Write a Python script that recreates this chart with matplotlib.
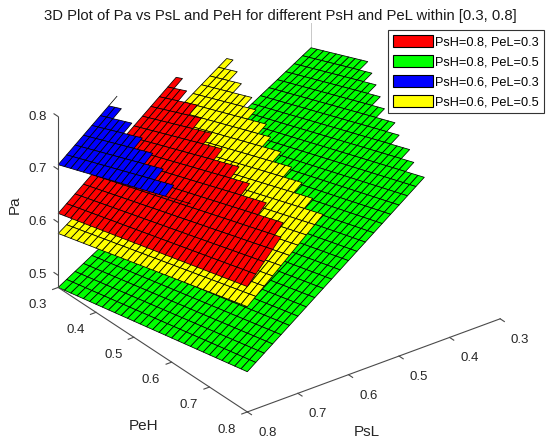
import numpy as np
import matplotlib
matplotlib.use('Agg')
import matplotlib.pyplot as plt
import matplotlib.patches as mpatches
from mpl_toolkits.mplot3d.art3d import Poly3DCollection

plt.rcParams['font.family'] = ['Liberation Sans', 'DejaVu Sans']

# sampling of the two free variables (31 points each, as in the surf grid)
psl = np.linspace(0.3, 0.8, 31)
peh = np.linspace(0.3, 0.8, 31)
pa_range = [0.3, 0.8]          # Pa kept only within this range

labels = ['PsH=0.8, PeL=0.3', 'PsH=0.8, PeL=0.5', 'PsH=0.6, PeL=0.3', 'PsH=0.6, PeL=0.5']
colors = ['#ff0000', '#00ff00', '#0000ff', '#ffff00']

# Pa at the grid corners
# order: (PsL=0.8,PeH=0.3), (PsL=0.8,PeH=0.8), (PsL=0.3,PeH=0.3), (PsL=0.3,PeH=0.8)
pa_red = [0.617, 0.714, 0.992, 1.239]
pa_green = [0.477, 0.553, 0.754, 0.902]
pa_blue = [0.709, 0.839, 1.089, 1.344]
pa_yellow = [0.579, 0.676, 0.899, 1.081]

ticks_xy = [0.3, 0.4, 0.5, 0.6, 0.7, 0.8]
ticks_z = [0.5, 0.6, 0.7, 0.8]

W, H = 550, 443
fig = plt.figure(figsize=(W / 100, H / 100), dpi=100)
ax = fig.add_axes([0, 0, 1, 1], projection='3d', proj_type='ortho', computed_zorder=False)

X, Y = np.meshgrid(psl, peh)
t = (X.max() - X) / (X.max() - X.min())
s = (Y - Y.min()) / (Y.max() - Y.min())

polys, fcs, allz = [], [], []
for corners, col in zip([pa_red, pa_green, pa_blue, pa_yellow], colors):
    c00, c01, c10, c11 = corners
    Z = c00 * (1 - t) * (1 - s) + c01 * (1 - t) * s + c10 * t * (1 - s) + c11 * t * s
    Z[(Z < pa_range[0]) | (Z > pa_range[1])] = np.nan
    ok = np.isfinite(Z)
    allz.append(Z[ok])
    face = ok[:-1, :-1] & ok[1:, :-1] & ok[:-1, 1:] & ok[1:, 1:]
    P = np.dstack([X, Y, Z])
    for i, j in zip(*np.nonzero(face)):
        polys.append([P[i, j], P[i, j + 1], P[i + 1, j + 1], P[i + 1, j]])
        fcs.append(col)
    # edges whose two nodes are valid but no face is drawn (tips of the staircase)
    fp = np.pad(face, 1)
    eh = ok[:, :-1] & ok[:, 1:] & ~fp[:-1, 1:-1] & ~fp[1:, 1:-1]
    ev = ok[:-1, :] & ok[1:, :] & ~fp[1:-1, :-1] & ~fp[1:-1, 1:]
    for i, j in zip(*np.nonzero(eh)):
        polys.append([P[i, j], P[i, j + 1]])
        fcs.append(col)
    for i, j in zip(*np.nonzero(ev)):
        polys.append([P[i, j], P[i + 1, j]])
        fcs.append(col)

zmin = min(z.min() for z in allz)
zmax = pa_range[1]

coll = Poly3DCollection(polys, facecolors=fcs, edgecolors='k', linewidths=0.55, zorder=2)
ax.add_collection3d(coll)

ax.set_xlim(0.3, 0.8)
ax.set_ylim(0.3, 0.8)
ax.set_zlim(zmin, zmax)
ax.set_box_aspect((1, 1, 1.925 * (zmax - zmin)))
ax.view_init(elev=29.5, azim=53.2)
ax.set_axis_off()


def project(x, y, z):
    hp = ax.get_proj() @ np.array([x, y, z, 1.0])
    return ax.transData.transform(hp[:2] / hp[3])


# fit the projected box onto the reference layout
fig.canvas.draw()
pts = [(0.8, 0.3, 0.5), (0.8, 0.3, 0.8), (0.8, 0.3, zmin), (0.8, 0.8, zmin), (0.3, 0.8, zmin)]
target = np.array([[58, 275], [58, 117], [58, 287], [248, 412], [500, 319]], float)
bb = ax.get_position().transformed(fig.transFigure)
f = np.array([(project(*p) - [bb.x0, bb.y0]) / bb.width for p in pts])
n = len(pts)
A = np.zeros((2 * n, 3))
A[:n, 0] = 1
A[:n, 2] = f[:, 0]
A[n:, 1] = 1
A[n:, 2] = f[:, 1]
x0, y0, w = np.linalg.lstsq(A, np.r_[target[:, 0], H - target[:, 1]], rcond=None)[0]
ax.set_position([x0 / W, y0 / H, w / W, w / H])
fig.canvas.draw()

# axes drawn MATLAB style
axc = '#4a4a4a'
txc = '#262626'
ax.plot([0.3, 0.3], [0.3, 0.3], [zmin, zmax], color='#c8c8c8', lw=0.7, zorder=0)
ax.plot([0.8, 0.8], [0.3, 0.3], [zmin, zmax], color=axc, lw=0.8, zorder=5)
ax.plot([0.8, 0.8], [0.3, 0.8], [zmin, zmin], color=axc, lw=0.8, zorder=5)
ax.plot([0.3, 0.8], [0.8, 0.8], [zmin, zmin], color=axc, lw=0.8, zorder=5)


def label_at(x, y, z, dx, dy, s, **kw):
    px, py = project(x, y, z)
    fig.text((px + dx) / W, (py - dy) / H, s, fontsize=9.5, color=txc, va='center', **kw)


tk = 0.011
for v in ticks_z:
    ax.plot([0.8, 0.8], [0.3, 0.3 - tk], [v, v], color=axc, lw=0.8, zorder=5)
    label_at(0.8, 0.3, v, -11, 0, f'{v:.1f}', ha='right')
for v in ticks_xy:
    ax.plot([0.8, 0.8 + tk], [v, v], [zmin, zmin], color=axc, lw=0.8, zorder=5)
    label_at(0.8, v, zmin, -20.5, 18, f'{v:.1f}', ha='center')
    ax.plot([v, v], [0.8, 0.8 + tk], [zmin, zmin], color=axc, lw=0.8, zorder=5)
    label_at(v, 0.8, zmin, 20, 21, f'{v:.1f}', ha='center')

fig.text(144 / W, 1 - 426 / H, 'PeH', ha='center', va='center', fontsize=11, color=txc)
fig.text(367 / W, 1 - 432 / H, 'PsL', ha='center', va='center', fontsize=11, color=txc)
fig.text(15 / W, 1 - 205 / H, 'Pa', ha='center', va='center', rotation=90, fontsize=11,
         color=txc)
fig.text(280 / W, 1 - 16 / H,
         '3D Plot of Pa vs PsL and PeH for different PsH and PeL within [0.3, 0.8]',
         ha='center', va='center', fontsize=10.7, color='#1a1a1a')

handles = [mpatches.Patch(facecolor=c, edgecolor='k', linewidth=0.8, label=l)
           for c, l in zip(colors, labels)]
leg = fig.legend(handles=handles, loc='upper right', bbox_to_anchor=(544 / W, 1 - 30 / H),
                 fontsize=9.2, handlelength=3.1, handleheight=1.05, handletextpad=0.2,
                 labelspacing=0.52, borderpad=0.4, borderaxespad=0, fancybox=False,
                 edgecolor='#333333', framealpha=1)
leg.get_frame().set_linewidth(0.8)

fig.savefig('out.png', dpi=100, facecolor='white')
